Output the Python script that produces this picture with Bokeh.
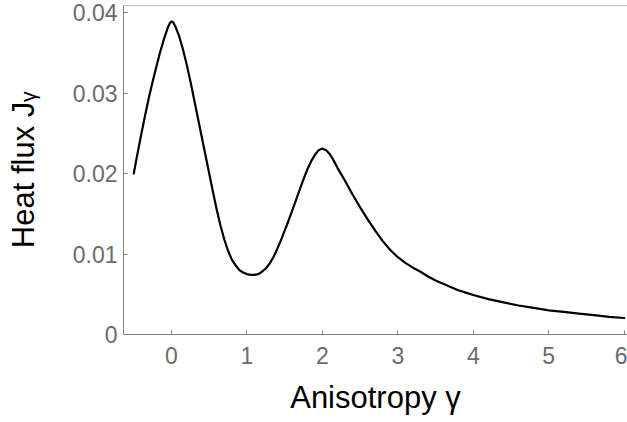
from bokeh.plotting import figure
from bokeh.models import FixedTicker, CustomJSTickFormatter, Range1d, Span
from bokeh.embed import file_html
from bokeh.resources import INLINE

# Anisotropy gamma (x) and heat flux J_gamma (y)
gamma = [-0.5, -0.45, -0.4, -0.35, -0.3, -0.25, -0.2, -0.15, -0.1, -0.05,
         -0.02, 0.0, 0.02, 0.05, 0.1, 0.15, 0.2, 0.25, 0.3, 0.35, 0.4, 0.45,
         0.5, 0.55, 0.6, 0.65, 0.7, 0.75, 0.8, 0.85, 0.9, 0.95, 1.0, 1.05,
         1.1, 1.15, 1.2, 1.25, 1.3, 1.35, 1.4, 1.45, 1.5, 1.55, 1.6, 1.65,
         1.7, 1.75, 1.8, 1.85, 1.9, 1.95, 2.0, 2.05, 2.1, 2.15, 2.2, 2.3,
         2.4, 2.5, 2.6, 2.7, 2.8, 2.9, 3.0, 3.1, 3.2, 3.3, 3.4, 3.5, 3.6,
         3.7, 3.8, 3.9, 4.0, 4.2, 4.4, 4.6, 4.8, 5.0, 5.2, 5.4, 5.6, 5.8, 6.0]
heat_flux = [0.0200, 0.0225, 0.0249, 0.0272, 0.0294, 0.0314, 0.0333, 0.0351,
             0.0367, 0.0381, 0.0387, 0.0389, 0.0388, 0.0383, 0.0371, 0.0355,
             0.0336, 0.0315, 0.0292, 0.0269, 0.0246, 0.0223, 0.0200, 0.0177,
             0.0155, 0.0135, 0.0118, 0.0104, 0.0093, 0.0086, 0.0080, 0.0077,
             0.0075, 0.0074, 0.0074, 0.0075, 0.0078, 0.0082, 0.0088, 0.0096,
             0.0106, 0.0117, 0.0129, 0.0141, 0.0154, 0.0167, 0.0180, 0.0193,
             0.0205, 0.0215, 0.0223, 0.0229, 0.0231, 0.0229, 0.0224, 0.0216,
             0.0207, 0.0191, 0.0174, 0.0158, 0.0143, 0.0129, 0.0116, 0.0105,
             0.0096, 0.0089, 0.0083, 0.0078, 0.0072, 0.0067, 0.0063, 0.0059,
             0.0055, 0.0052, 0.0049, 0.0044, 0.0040, 0.0036, 0.0033, 0.0030,
             0.0028, 0.0026, 0.0024, 0.0022, 0.00205]

x_ticks = [0, 1, 2, 3, 4, 5, 6]
y_ticks = [0, 0.01, 0.02, 0.03, 0.04]
y_top = 0.04087

GRAY = "#808080"
TICK_TXT = "#6b6b6b"
FONT = "Liberation Sans"

p = figure(width=627, height=422, output_backend="svg", toolbar_location=None,
           x_range=Range1d(-0.636, 6.044), y_range=Range1d(0, y_top),
           min_border_left=123, min_border_right=0, min_border_top=5,
           min_border_bottom=88)

p.line(gamma, heat_flux, line_color="black", line_width=2.2,
       line_join="round", line_cap="round")

# top frame line only (the right edge of the frame lies outside the picture)
p.add_layout(Span(location=y_top, dimension="width", line_color=GRAY, line_width=1))

p.xgrid.grid_line_color = None
p.ygrid.grid_line_color = None
p.outline_line_color = None
p.background_fill_color = "white"
p.border_fill_color = "white"

p.xaxis.ticker = FixedTicker(ticks=x_ticks)
p.yaxis.ticker = FixedTicker(ticks=y_ticks)
p.yaxis.formatter = CustomJSTickFormatter(code="return tick == 0 ? '0' : tick.toFixed(2);")

p.xaxis.axis_label = "Anisotropy γ"
p.yaxis.axis_label = "Heat flux Jᵧ"

for ax in (p.xaxis, p.yaxis):
    ax.axis_line_color = GRAY
    ax.major_tick_line_color = GRAY
    ax.major_tick_in = 4
    ax.major_tick_out = 0
    ax.minor_tick_line_color = None
    ax.major_label_text_font = FONT
    ax.major_label_text_font_size = "23px"
    ax.major_label_text_color = TICK_TXT
    ax.axis_label_text_font = FONT
    ax.axis_label_text_font_size = "31px"
    ax.axis_label_text_font_style = "normal"
    ax.axis_label_text_color = "black"

p.xaxis.major_label_standoff = 12
p.xaxis.axis_label_standoff = 13
p.yaxis.major_label_standoff = 6
p.yaxis.axis_label_standoff = 29

open("out.html", "w").write(file_html(p, INLINE))
